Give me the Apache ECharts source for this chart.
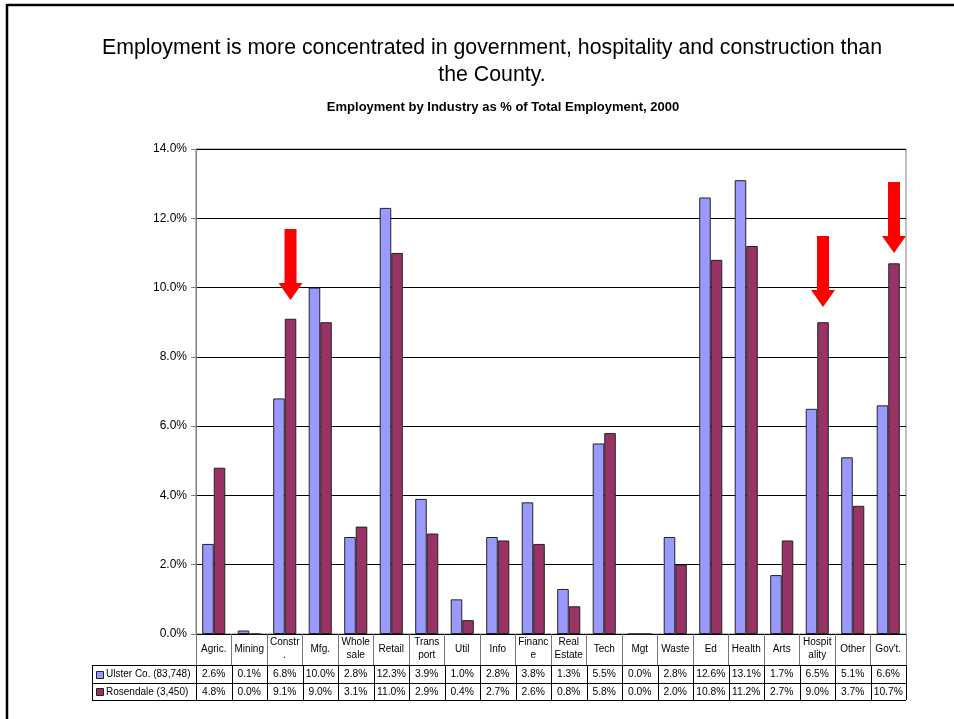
<!DOCTYPE html>
<html>
<head>
<meta charset="utf-8">
<script src="https://cdn.jsdelivr.net/npm/echarts@6/dist/echarts.min.js"></script>
<style>
html,body{margin:0;padding:0;background:#fff;}
#chart{width:954px;height:719px;}
</style>
</head>
<body>
<div id="chart"></div>
<script>
const categories = ['Agric.','Mining','Constr\n.','Mfg.','Whole\nsale','Retail','Trans\nport','Util','Info','Financ\ne','Real\nEstate','Tech','Mgt','Waste','Ed','Health','Arts','Hospit\nality','Other',"Gov't."];
const seriesNames = ['Ulster Co. (83,748)', 'Rosendale (3,450)'];
const ulster = [2.6,0.1,6.8,10.0,2.8,12.3,3.9,1.0,2.8,3.8,1.3,5.5,0.0,2.8,12.6,13.1,1.7,6.5,5.1,6.6];
const rosendale = [4.8,0.0,9.1,9.0,3.1,11.0,2.9,0.4,2.7,2.6,0.8,5.8,0.0,2.0,10.8,11.2,2.7,9.0,3.7,10.7];
const yTicks = [0,2,4,6,8,10,12,14];
// arrow annotations: category index and the value where the arrow tip points
const arrowCats = [2, 17, 19];
const arrowTips = [9.64, 9.44, 11.0];

const colors = ['#9999FF', '#993366'];
const FONT = 'Liberation Sans, Arial, sans-serif';
const chart = echarts.init(document.getElementById('chart'), null, {renderer:'canvas'});

const arrowPath = 'path://M6,0L18,0L18,54L24,54L12,71L0,54L6,54Z';

const option = {
  animation: false,
  backgroundColor: '#fff',
  title: [
    {
      text: 'Employment is more concentrated in government, hospitality and construction than\nthe County.',
      left: 487, top: 30, textAlign: 'center',
      textStyle: {fontFamily: FONT, fontSize: 21.3, fontWeight: 'normal', color: '#000', lineHeight: 27}
    },
    {
      text: 'Employment by Industry as % of Total Employment, 2000',
      left: 498, top: 96, textAlign: 'center',
      textStyle: {fontFamily: FONT, fontSize: 13, fontWeight: 'bold', color: '#000'}
    }
  ],
  grid: {left: 196, right: 48, top: 149, bottom: 85, show: true, borderColor: '#808080', borderWidth: 1, backgroundColor: 'transparent'},
  xAxis: {
    type: 'category',
    data: categories,
    axisLine: {show: true, lineStyle: {color: '#000', width: 1}},
    axisTick: {show: true, interval: 0, alignWithLabel: false, length: 31, lineStyle: {color: '#777'}},
    axisLabel: {interval: 0, margin: 15, verticalAlign: 'middle', fontFamily: FONT, fontSize: 10, color: '#000', lineHeight: 13}
  },
  yAxis: {
    type: 'value', min: yTicks[0], max: yTicks[yTicks.length-1], interval: 2,
    axisLine: {show: true, lineStyle: {color: '#808080'}},
    axisTick: {show: true, length: 5, lineStyle: {color: '#808080'}},
    axisLabel: {margin: 9, fontFamily: FONT, fontSize: 12, color: '#000', formatter: v => v.toFixed(1) + '%'},
    splitLine: {show: true, lineStyle: {color: '#000', width: 1}}
  },
  tooltip: {show: false},
  series: [
    {
      name: seriesNames[0], type: 'bar', data: ulster, barWidth: '32.5%', barGap: '0%',
      itemStyle: {color: colors[0], borderColor: '#222', borderWidth: 1}
    },
    {
      name: seriesNames[1], type: 'bar', data: rosendale, barWidth: '32.5%', barGap: '0%',
      itemStyle: {color: colors[1], borderColor: '#222', borderWidth: 1},
      markPoint: {
        symbol: arrowPath, symbolSize: [24, 71], symbolOffset: [0, -35.5], symbolKeepAspect: false,
        label: {show: false},
        itemStyle: {color: '#FF0000'},
        data: arrowCats.map((c, i) => ({coord: [c, arrowTips[i]]}))
      }
    }
  ]
};
chart.setOption(option);

// data table built from arrays
const c0 = chart.convertToPixel({xAxisIndex: 0}, 0);
const c1 = chart.convertToPixel({xAxisIndex: 0}, 1);
const catW = c1 - c0;
const gx0 = c0 - catW / 2;
const gx1 = gx0 + catW * categories.length;
const gy0 = chart.convertToPixel({yAxisIndex: 0}, 0);
const rowTop = gy0 + 31;
const rowH = 17.5;
const legendLeft = gx0 - 104;
const els = [];
const lineStyle = {stroke: '#000', lineWidth: 1};
for (let r = 0; r <= 2; r++) {
  const y = Math.round(rowTop + r * rowH) + 0.5;
  els.push({type: 'line', shape: {x1: legendLeft, y1: y, x2: gx1, y2: y}, style: lineStyle, silent: true});
}
const vx = [legendLeft];
for (let i = 0; i <= categories.length; i++) vx.push(gx0 + i * catW);
vx.forEach(x => {
  const xx = Math.round(x) + 0.5;
  els.push({type: 'line', shape: {x1: xx, y1: rowTop, x2: xx, y2: rowTop + 2 * rowH}, style: lineStyle, silent: true});
});
[ulster, rosendale].forEach((arr, r) => {
  const cy = rowTop + r * rowH + rowH / 2 + 0.5;
  els.push({type: 'rect', shape: {x: legendLeft + 4.5, y: Math.round(cy - 3.5) + 0.5, width: 7, height: 7},
    style: {fill: colors[r], stroke: '#222', lineWidth: 1}, silent: true});
  els.push({type: 'text', x: legendLeft + 14, y: cy,
    style: {text: seriesNames[r], fontFamily: FONT, fontSize: 10, fill: '#000', textVerticalAlign: 'middle', verticalAlign: 'middle'}, silent: true});
  arr.forEach((v, i) => {
    els.push({type: 'text', x: gx0 + (i + 0.5) * catW, y: cy,
      style: {text: v.toFixed(1) + '%', fontFamily: FONT, fontSize: 10.3, fill: '#000', align: 'center', verticalAlign: 'middle'}, silent: true});
  });
});
// outer page frame
els.push({type: 'line', shape: {x1: 7, y1: 5, x2: 954, y2: 5}, style: {stroke: '#000', lineWidth: 2.5}, silent: true});
els.push({type: 'line', shape: {x1: 7, y1: 4, x2: 7, y2: 719}, style: {stroke: '#000', lineWidth: 2.5}, silent: true});
chart.setOption({graphic: els});
</script>
</body>
</html>
